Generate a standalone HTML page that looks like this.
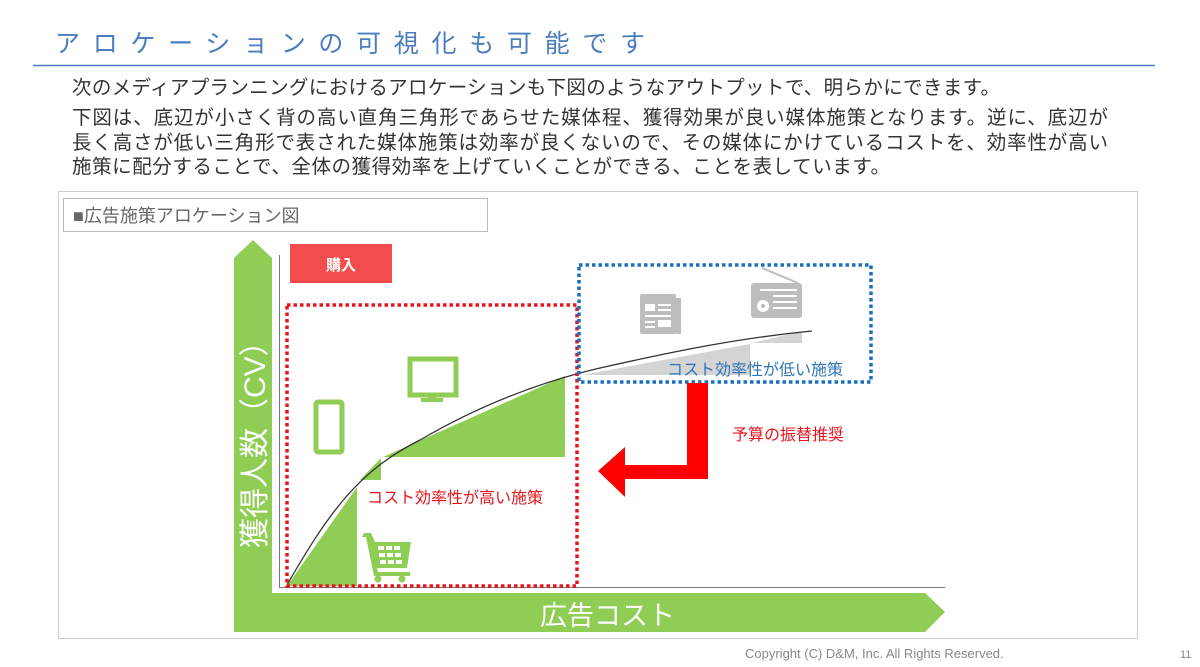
<!DOCTYPE html>
<html><head><meta charset="utf-8"><style>
html,body{margin:0;padding:0;background:#fff;}
svg{display:block;font-family:"Liberation Sans","Noto Sans CJK JP",sans-serif;}
</style></head><body>
<svg width="1200" height="667" viewBox="0 0 1200 667" xmlns="http://www.w3.org/2000/svg">
<text x="55" y="52" font-size="25" fill="#4a7ebf" textLength="590" lengthAdjust="spacing">アロケーションの可視化も可能です</text>
<line x1="33" y1="65.5" x2="1155" y2="65.5" stroke="#4a7ebf" stroke-width="1.5"/>
<g font-size="19.5" fill="#333">
<text x="72" y="94" textLength="928" lengthAdjust="spacing">次のメディアプランニングにおけるアロケーションも下図のようなアウトプットで、明らかにできます。</text>
<text x="72" y="124" textLength="1036" lengthAdjust="spacing">下図は、底辺が小さく背の高い直角三角形であらせた媒体程、獲得効果が良い媒体施策となります。逆に、底辺が</text>
<text x="72" y="149" textLength="1036" lengthAdjust="spacing">長く高さが低い三角形で表された媒体施策は効率が良くないので、その媒体にかけているコストを、効率性が高い</text>
<text x="72" y="173" textLength="818" lengthAdjust="spacing">施策に配分することで、全体の獲得効率を上げていくことができる、ことを表しています。</text>
</g>
<rect x="58.5" y="191.5" width="1079" height="447" fill="none" stroke="#ccc"/>
<rect x="63.5" y="198.5" width="424" height="33" fill="#fff" stroke="#bbb"/>
<text x="73" y="222" font-size="18" fill="#666">■広告施策アロケーション図</text>
<polygon points="234,258 253,240 272,258 272,593 925,593 945,612 925,632 234,632" fill="#8fcd55"/>
<line x1="279.5" y1="255" x2="279.5" y2="587" stroke="#777" stroke-width="1"/>
<line x1="279" y1="587.5" x2="945" y2="587.5" stroke="#777" stroke-width="1"/>
<text transform="translate(265,548) rotate(-90)" font-size="30" fill="#fff">獲得人数（CV）</text>
<text x="540" y="625" font-size="27" fill="#fff">広告コスト</text>
<rect x="290" y="244" width="102" height="39" fill="#f34c4c"/>
<text x="341" y="270" font-size="15" font-weight="bold" fill="#fff" text-anchor="middle">購入</text>
<polygon points="287,586 357,487 357,586" fill="#8fcd55"/>
<polygon points="360,480 381,458 381,480" fill="#8fcd55"/>
<polygon points="383,457 565,376 565,457" fill="#8fcd55"/>
<polygon points="582,375 750,344 750,375" fill="#d4d4d4"/>
<polygon points="752,343 802,331 802,343" fill="#d4d4d4"/>
<path d="M287,585 C330,510 360,470 420,440 C480,405 540,382 600,368 C680,350 740,338 812,331" fill="none" stroke="#333" stroke-width="1.3"/>
<rect x="287" y="305" width="290" height="281" fill="none" stroke="#e8141c" stroke-width="3.5" stroke-dasharray="3.5,3"/>
<rect x="579" y="265" width="292" height="117" fill="none" stroke="#1b6fc2" stroke-width="3.5" stroke-dasharray="3.5,3"/>
<rect x="316" y="402" width="26" height="50" rx="2" fill="none" stroke="#8fcd55" stroke-width="5"/>
<rect x="410" y="359" width="46" height="36" fill="none" stroke="#8fcd55" stroke-width="5"/>
<rect x="428" y="396" width="8" height="5" fill="#8fcd55"/><rect x="421" y="398" width="22" height="4" fill="#8fcd55"/>
<g fill="#8fcd55"><path d="M364,533 h7 l4,9 h36 l-4,26 h-30 l1,4 h32 v4 h-36 l-8,-39 h-4z"/></g>
<g fill="#fff"><rect x="378" y="546" width="6" height="4"/><rect x="386" y="546" width="6" height="4"/><rect x="394" y="546" width="6" height="4"/><rect x="379" y="553" width="6" height="4"/><rect x="387" y="553" width="6" height="4"/><rect x="395" y="553" width="6" height="4"/><rect x="380" y="560" width="6" height="4"/><rect x="388" y="560" width="6" height="4"/><rect x="396" y="560" width="6" height="4"/></g>
<circle cx="378" cy="579" r="3.5" fill="#8fcd55"/><circle cx="402" cy="579" r="3.5" fill="#8fcd55"/>
<rect x="640" y="294" width="36" height="40" rx="2" fill="#bdbdbd"/><rect x="676" y="298" width="5" height="36" fill="#bdbdbd"/>
<g fill="#fff"><rect x="645" y="304" width="10" height="7"/><rect x="658" y="304" width="13" height="2"/><rect x="658" y="309" width="13" height="2"/><rect x="645" y="315" width="26" height="2"/><rect x="645" y="321" width="10" height="2"/><rect x="658" y="320" width="13" height="7"/><rect x="645" y="326" width="10" height="2"/></g>
<rect x="751" y="283" width="51" height="35" rx="3" fill="#bdbdbd"/><line x1="762" y1="268" x2="798" y2="283" stroke="#bdbdbd" stroke-width="2"/>
<circle cx="763" cy="306" r="6" fill="#fff"/><circle cx="763" cy="306" r="2" fill="#bdbdbd"/>
<g fill="#fff"><rect x="773" y="295" width="24" height="2"/><rect x="773" y="301" width="24" height="2"/><rect x="773" y="307" width="24" height="2"/><rect x="760" y="289" width="37" height="2"/></g>
<text x="367" y="503" font-size="16" fill="#e8141c">コスト効率性が高い施策</text>
<text x="667" y="375" font-size="16" fill="#2e75b6">コスト効率性が低い施策</text>
<text x="732" y="440" font-size="16" fill="#e8141c">予算の振替推奨</text>
<polygon points="687,383 708,383 708,479 625,479 625,497 598,471 625,447 625,465 687,465" fill="#ff0000"/>
<text x="745" y="658" font-size="13" fill="#888">Copyright (C) D&amp;M, Inc. All Rights Reserved.</text>
<text x="1180" y="658" font-size="11" fill="#888">11</text>
</svg>
</body></html>
